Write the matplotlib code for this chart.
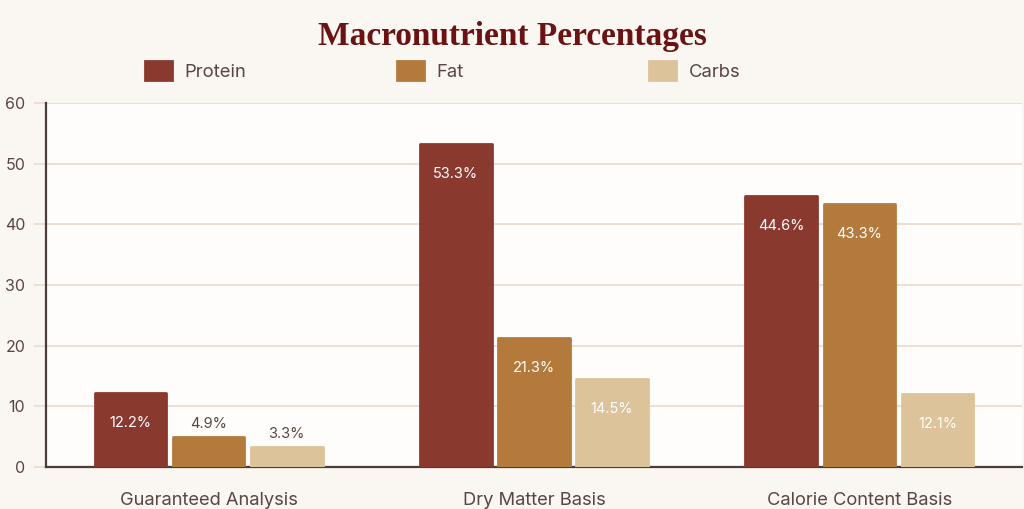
import matplotlib
matplotlib.use("Agg")
import matplotlib.pyplot as plt
import numpy as np
from matplotlib.patches import Patch

categories = ["Guaranteed Analysis", "Dry Matter Basis", "Calorie Content Basis"]
series_names = ["Protein", "Fat", "Carbs"]
protein = [12.2, 53.3, 44.6]
fat = [4.9, 21.3, 43.3]
carbs = [3.3, 14.5, 12.1]
yticks = [0, 10, 20, 30, 40, 50, 60]
title = "Macronutrient Percentages"

colors = ["#8a392f", "#b37a3c", "#dcc39a"]
fig_bg = "#faf6f2"
ax_bg = "#fffdfc"
grid_c = "#ecdfd3"
text_c = "#5a4640"
spine_c = "#4d3b35"

plt.rcParams['font.family'] = ['Inter', 'DejaVu Sans']

fig = plt.figure(figsize=(10.24, 5.09), dpi=100, facecolor=fig_bg)
ax = fig.add_axes([46/1024, 42/509, 976/1024, 364/509])
ax.set_facecolor(ax_bg)

x = np.arange(len(categories))
width = 0.22
offsets = [-0.24, 0.0, 0.24]
all_series = [protein, fat, carbs]

for s, (vals, off, col) in enumerate(zip(all_series, offsets, colors)):
    bars = ax.bar(x + off, vals, width=width, color=col, edgecolor=col,
                  linewidth=2.0, joinstyle='round', zorder=3, label=series_names[s])
    for xi, v in zip(x + off, vals):
        if v >= 10:
            ax.annotate(f"{v}%", (xi, v), xytext=(0, -30), textcoords='offset pixels',
                        ha='center', va='center', color='white', fontsize=10.5, zorder=4)
        else:
            ax.annotate(f"{v}%", (xi, v), xytext=(0, 13), textcoords='offset pixels',
                        ha='center', va='center', color=text_c, fontsize=10.5, zorder=4)

ax.set_xlim(-0.5, 2.5)
ax.set_ylim(0, 60)
ax.set_yticks(yticks)
ax.set_yticklabels([str(t) for t in yticks], fontsize=11.5, color=text_c)
ax.set_xticks(x)
ax.set_xticklabels(categories, fontsize=13.2, color=text_c)
ax.tick_params(axis='y', length=9, width=1.5, color=grid_c, pad=6)
ax.tick_params(axis='x', length=0, pad=18)
ax.grid(axis='y', color=grid_c, linewidth=1.5, zorder=0)
ax.set_axisbelow(True)
for side in ['top', 'right']:
    ax.spines[side].set_visible(False)
ax.spines['left'].set_color(spine_c)
ax.spines['left'].set_linewidth(1.6)
ax.spines['bottom'].set_color(spine_c)
ax.spines['bottom'].set_linewidth(1.6)

fig.text(0.5, 1 - 37/509, title, ha='center', va='center', fontsize=24,
         fontweight='bold', color="#6b1212", family=['Liberation Serif', 'DejaVu Serif'])

leg_x = [145, 397, 649]
for name, col, lx in zip(series_names, colors, leg_x):
    h = Patch(facecolor=col, edgecolor=col, linewidth=2.0, joinstyle='round')
    fig.legend([h], [name], loc='center left', bbox_to_anchor=(lx/1024, 1 - 71/509),
               frameon=False, borderpad=0, borderaxespad=0, handlelength=1.45,
               handleheight=1.15, handletextpad=0.7, fontsize=13.3, labelcolor=text_c)

fig.savefig("out.png", dpi=100, facecolor=fig_bg)
